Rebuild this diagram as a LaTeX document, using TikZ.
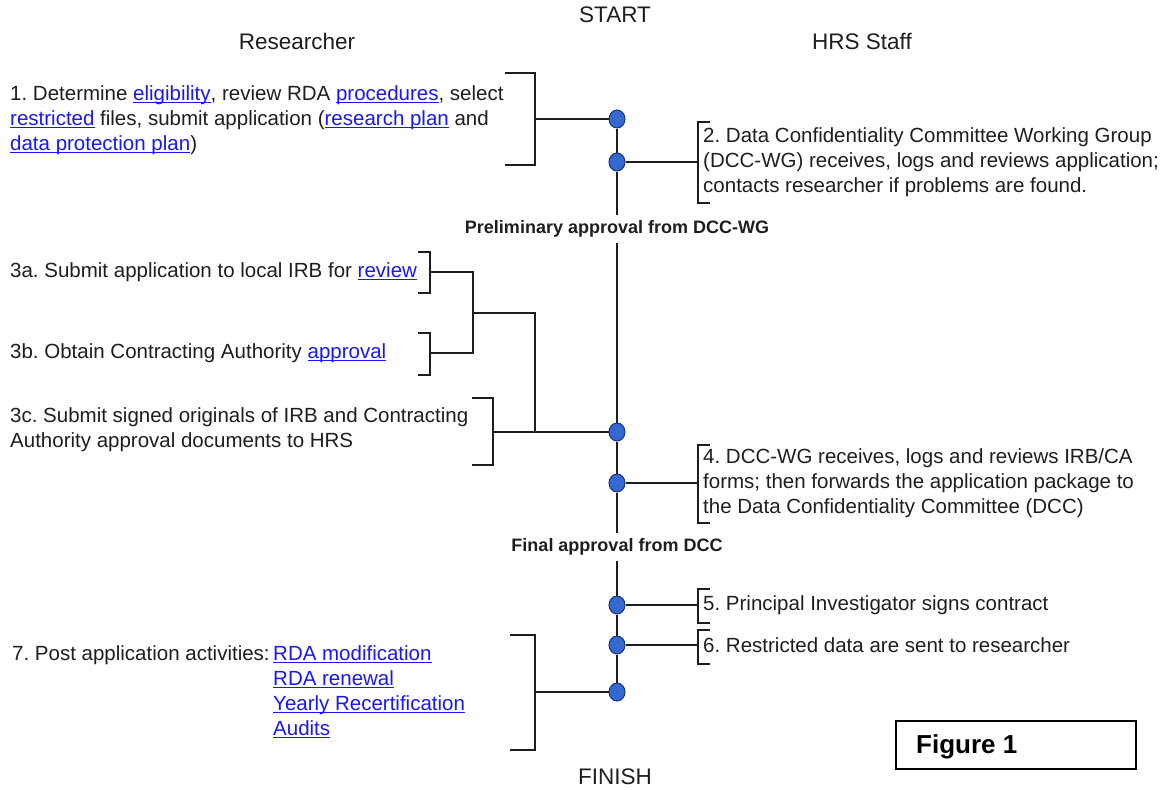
\documentclass[tikz,border=0pt]{standalone}
\usepackage{fontspec}
\setmainfont{Liberation Sans}
\usepackage{tikz}
\usetikzlibrary{
	positioning,
	shapes.geometric
}
\definecolor{linkblue}{RGB}{25,25,235}
\definecolor{dotblue}{RGB}{52,104,210}
\definecolor{dotedge}{RGB}{28,52,115}
\definecolor{ink}{RGB}{30,30,30}
\newcommand{\lnk}[1]{\textcolor{linkblue}{\setbox0\hbox{#1}\rlap{\rule[-2.6pt]{\wd0}{1.1pt}}\box0}}
\frenchspacing

\begin{document}
\begin{tikzpicture}[x=1pt,y=-1pt,
		item/.style={anchor=west, align=left, inner sep=0pt, text=ink, font=\fontsize{20.5}{25}\selectfont},
		head/.style={inner sep=0pt, text=ink, font=\fontsize{22.5}{27}\selectfont},
		gate/.style={inner sep=5pt, text=ink, font=\fontsize{18}{22}\selectfont\bfseries},
		dot/.style={ellipse, draw=dotedge, fill=dotblue, line width=1pt, minimum width=16pt, minimum height=18pt, inner sep=0pt},
		wire/.style={draw=ink, line width=1.5pt},
		brk/.style={draw=ink, line width=1.5pt}
	]
		\useasboundingbox (0,0) rectangle (1160,790);

		\node[head] (start) at (615,15) {START};
		\node[head] (res) at (297,41) {Researcher};
		\node[head] (hrs) at (862,41) {HRS Staff};
		\node[head] (finish) at (615,777) {FINISH};

		\node[gate] (pre) at (617,229) {Preliminary approval from DCC-WG};
		\node[gate] (fin) at (617,547) {Final approval from DCC};

		\node[dot] (d1) at (617,119) {};
		\node[dot] (d2) at (617,162) {};
		\node[dot] (d3) at (617,432) {};
		\node[dot] (d4) at (617,483) {};
		\node[dot] (d5) at (617,605) {};
		\node[dot] (d6) at (617,645) {};
		\node[dot] (d7) at (617,692) {};

		\node[item] (s1) at (10,120) {1. Determine \lnk{eligibility}, review RDA \lnk{procedures}, select\\
			\lnk{restricted} files, submit application (\lnk{research plan} and\\
			\lnk{data protection plan})};
		\node[item] (s2) at (703,162) {2. Data Confidentiality Committee Working Group\\
			(DCC-WG) receives, logs and reviews application;\\
			contacts researcher if problems are found.};
		\node[item] (s3a) at (10,272) {3a. Submit application to local IRB for \lnk{review}};
		\node[item] (s3b) at (10,353) {3b. Obtain Contracting Authority \lnk{approval}};
		\node[item] (s3c) at (10,430) {3c. Submit signed originals of IRB and Contracting\\
			Authority approval documents to HRS};
		\node[item] (s4) at (703,483) {4. DCC-WG receives, logs and reviews IRB/CA\\
			forms; then forwards the application package to\\
			the Data Confidentiality Committee (DCC)};
		\node[item] (s5) at (703,605) {5. Principal Investigator signs contract};
		\node[item] (s6) at (703,645) {6. Restricted data are sent to researcher};
		\node[item] (s7) at (12,655) {7. Post application activities:};
		\node[item] (l7) at (273,692) {\lnk{RDA modification}\\ \lnk{RDA renewal}\\
			\lnk{Yearly Recertification}\\ \lnk{Audits}};

		\node[draw=black, line width=2pt, minimum width=240pt, minimum height=48pt, inner sep=0pt, anchor=north west] (figbox) at (895,720) {};
		\node[anchor=west, inner sep=0pt, font=\fontsize{26}{30}\selectfont\bfseries] (figtxt) at ([xshift=21pt,yshift=-2pt]figbox.west) {Figure 1};

		\coordinate (b1) at (535,119);
		\coordinate (b2) at (698,162);
		\coordinate (b3a) at (430,272);
		\coordinate (b3b) at (430,353);
		\coordinate (m3) at (473,313);
		\coordinate (k3) at (535,432);
		\coordinate (b3c) at (493,432);
		\coordinate (b4) at (698,483);
		\coordinate (b5) at (698,605);
		\coordinate (b6) at (698,645);
		\coordinate (b7) at (535,692);

		% brackets
		\draw[brk] (505,73) -- (535,73) -- (535,165) -- (505,165);
		\draw[brk] (710,122) -- (698,122) -- (698,203) -- (710,203);
		\draw[brk] (418,252) -- (430,252) -- (430,293) -- (418,293);
		\draw[brk] (418,333) -- (430,333) -- (430,375) -- (418,375);
		\draw[brk] (472,398) -- (493,398) -- (493,465) -- (472,465);
		\draw[brk] (710,445) -- (698,445) -- (698,523) -- (710,523);
		\draw[brk] (710,589) -- (698,589) -- (698,623) -- (710,623);
		\draw[brk] (710,630) -- (698,630) -- (698,664) -- (710,664);
		\draw[brk] (510,635) -- (535,635) -- (535,750) -- (510,750);

		% spine
		\draw[wire] (d1) -- (d2) -- (pre) -- (d3) -- (d4) -- (fin) -- (d5) -- (d6) -- (d7);

		\draw[wire] (b1) -- (d1);
		\draw[wire] (d2) -- (b2);
		\draw[wire] (b3a) -| (m3);
		\draw[wire] (b3b) -| (m3);
		\draw[wire] (m3) -| (k3);
		\draw[wire] (b3c) -- (d3);
		\draw[wire] (d4) -- (b4);
		\draw[wire] (d5) -- (b5);
		\draw[wire] (d6) -- (b6);
		\draw[wire] (b7) -- (d7);
\end{tikzpicture}
\end{document}
